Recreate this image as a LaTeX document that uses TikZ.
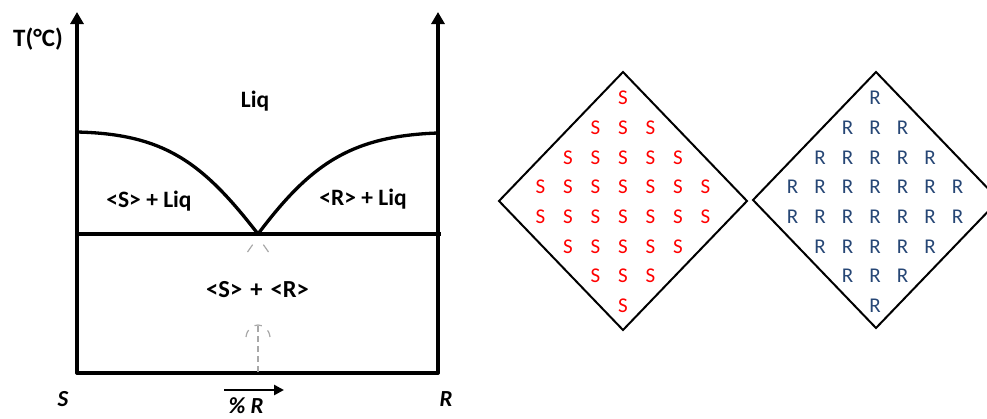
\documentclass[tikz,border=0pt]{standalone}
\usepackage{fontspec}
\setmainfont{Carlito}
\usetikzlibrary{arrows.meta}
\definecolor{sred}{HTML}{FF0000}
\definecolor{rblue}{HTML}{264675}
\definecolor{dgray}{HTML}{A8A8A8}
\tikzset{
  axis/.style={line width=3.3pt, line cap=round, line join=round},
  curve/.style={line width=3.3pt},
  lbl/.style={font=\fontsize{23.5}{25}\selectfont\bfseries, anchor=base, inner sep=0pt},
  axlbl/.style={font=\fontsize{23}{25}\selectfont\bfseries\itshape, anchor=base, inner sep=0pt},
  dia/.style={line width=2pt, line join=miter},
  ghost/.style={dgray, line width=1.2pt},
  sl/.style={font=\fontsize{21}{22}\selectfont, text=sred, inner sep=0pt},
  rl/.style={font=\fontsize{21}{22}\selectfont, text=rblue, inner sep=0pt}
}
\begin{document}
\begin{tikzpicture}[x=1pt,y=-1pt]
\useasboundingbox (0,0) rectangle (987,418);
% axes
\draw[axis] (77,373) -- (438,373);
\draw[axis, -{Triangle[length=12pt,width=13pt]}] (77,373) -- (77,12);
\draw[axis, -{Triangle[length=12pt,width=13pt]}] (438,373) -- (438,12);
% liquidus
\draw[curve] (77,132) .. controls (165,134) and (203,163) .. (258,234);
\draw[curve] (258,234) .. controls (310,165) and (350,136) .. (438,133);
% eutectic line
\draw[curve] (79,234) -- (441,234);
% ghost dashed marks
\draw[ghost, dash pattern=on 9pt off 20pt] (247.5,252) -- (258,237);
\draw[ghost, dash pattern=on 9pt off 20pt] (268.5,252) -- (258,237);
\draw[ghost, dash pattern=on 6pt off 4pt] (258,372) -- (258,326);
\draw[ghost, dash pattern=on 7.5pt off 7.5pt] (246,337) .. controls (248,321) and (268,321) .. (270,337);
% labels
\node[font=\fontsize{25}{27}\selectfont\bfseries, anchor=base, inner sep=0pt] (T) at (38,46.5) {T(°C)};
\node[lbl] (liq) at (255,107) {Liq};
\node[lbl] (sliq) at (149,207) {<S> + Liq};
\node[lbl] (rliq) at (363,205) {<R> + Liq};
\node[lbl, font=\fontsize{24.5}{26}\selectfont\bfseries] (sr) at (257.5,297) {<S>\hspace{0.33em}+\hspace{0.33em}<R>};
\node[axlbl] (S) at (63,406) {S};
\node[axlbl] (R) at (446,406) {R};
\coordinate (pa) at (224,390);
\coordinate (pb) at (284,390);
\draw[line width=2.6pt, -{Triangle[length=10pt,width=10pt]}] (pa) -- (pb);
\node[axlbl] (pr) at (246,413) {\% R};
% diamonds
\draw[dia] (623,72) -- (747,201) -- (623,330) -- (499,201) -- cycle;
\draw[dia] (876,72) -- (999,200) -- (876,328) -- (753,200) -- cycle;
% letters
\foreach \n [count=\i from 0] in {1,3,5,7,7,5,3,1} {
  \pgfmathsetmacro{\yy}{98+\i*29.7}
  \pgfmathsetmacro{\h}{(\n-1)/2}
  \foreach \k in {1,...,\n} {
    \pgfmathsetmacro{\xo}{(\k-1-\h)*27.5}
    \node[sl] at (623+\xo,\yy) {S};
    \node[rl] at (875+\xo,\yy) {R};
  }
}
\end{tikzpicture}
\end{document}
